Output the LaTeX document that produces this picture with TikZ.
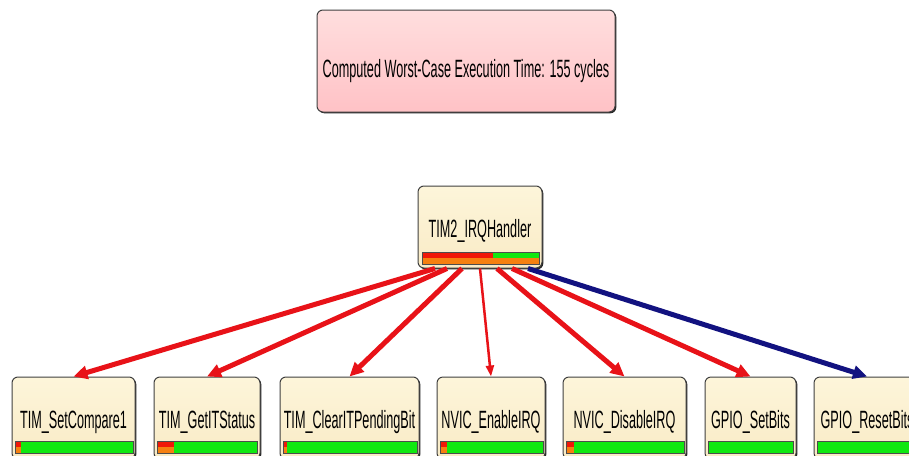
\documentclass[tikz,border=0pt]{standalone}
\usepackage{fontspec}
\setmainfont{Liberation Sans}[FakeStretch=0.506]
\usetikzlibrary{arrows.meta,shadows}
\definecolor{edgered}{RGB}{232,18,24}
\definecolor{edgeblue}{RGB}{18,18,128}
\definecolor{barred}{RGB}{240,24,8}
\definecolor{barorange}{RGB}{246,128,16}
\definecolor{bargreen}{RGB}{16,232,16}
\definecolor{creamtop}{RGB}{253,245,218}
\definecolor{creambot}{RGB}{249,235,198}
\definecolor{pinktop}{RGB}{255,222,222}
\definecolor{pinkbot}{RGB}{255,194,198}
\newcommand\callbar[4]{%
  \fill[bargreen] (#1,#3) rectangle (#2,#3+12);
  \fill[barred] (#1,#3) rectangle (#4,#3+6);
  \fill[barorange] (#1,#3+6) rectangle (#4,#3+12);
  \draw[black!70, line width=0.8pt] (#1,#3) rectangle (#2,#3+12);
}
\tikzset{
  boxbase/.style={draw=black!75, line width=1pt, rounded corners=6pt, inner sep=0pt,
    font=\fontsize{25}{25}\selectfont,
    drop shadow={shadow xshift=1.3pt, shadow yshift=-1.3pt, fill=black!85, opacity=1}},
  procbox/.style={boxbase, top color=creamtop, bottom color=creambot,
    minimum height=82pt, text height=24pt, text depth=4pt},
  wcetbox/.style={boxbase, top color=pinktop, bottom color=pinkbot,
    minimum width=298pt, minimum height=102pt, text height=40pt, text depth=8pt},
  redcall/.style={draw=edgered, line width=5pt, -{Triangle[length=14pt,width=13pt]}},
  thincall/.style={draw=edgered, line width=2.5pt, -{Triangle[length=11pt,width=8pt]}},
  bluecall/.style={draw=edgeblue, line width=5pt, -{Triangle[length=14pt,width=13pt]}},
}
\begin{document}
\begin{tikzpicture}[x=1pt,y=-1pt]
\useasboundingbox (0,0) rectangle (909,455);
\fill[white] (0,0) rectangle (909,455);
\clip (0,0) rectangle (909,455);

\node[wcetbox] (wcet) at (466,61) {Computed Worst-Case Execution Time: 155 cycles};

\node[procbox, minimum width=124pt] (handler) at (480,227) {TIM2\_IRQHandler};

\node[procbox, minimum width=123pt] (c1) at (73.5,418) {TIM\_SetCompare1};
\node[procbox, minimum width=106pt] (c2) at (207,418) {TIM\_GetITStatus};
\node[procbox, minimum width=139pt] (c3) at (349.5,418) {TIM\_ClearITPendingBit};
\node[procbox, minimum width=108pt] (c4) at (491,418) {NVIC\_EnableIRQ};
\node[procbox, minimum width=123pt] (c5) at (624.5,418) {NVIC\_DisableIRQ};
\node[procbox, minimum width=91pt] (c6) at (750.5,418) {GPIO\_SetBits};
\node[procbox, minimum width=106pt] (c7) at (867,418) {GPIO\_ResetBits};

% handler bar
\fill[barorange] (422,252) rectangle (539,264);
\fill[barred] (422,252) rectangle (493,258);
\fill[bargreen] (493,252) rectangle (539,258);
\draw[black!70, line width=0.8pt] (422,252) rectangle (539,264);

% callee bars
\callbar{15}{133}{441}{21}
\callbar{157}{257}{441}{174}
\callbar{283}{417}{441}{287}
\callbar{440}{543}{441}{447}
\callbar{566}{684}{441}{574}
\callbar{708}{793}{441}{709}
\callbar{817}{918}{441}{817}

% calls
\draw[redcall] ([xshift=-45pt]handler.south) -- (c1.north);
\draw[redcall] ([xshift=-33pt]handler.south) -- (c2.north);
\draw[redcall] ([xshift=-18pt]handler.south) -- (c3.north);
\draw[thincall] (handler.south) -- (c4.north);
\draw[redcall] ([xshift=17pt]handler.south) -- (c5.north);
\draw[redcall] ([xshift=32pt]handler.south) -- (c6.north);
\draw[bluecall] ([xshift=48pt]handler.south) -- (c7.north);
\end{tikzpicture}
\end{document}
